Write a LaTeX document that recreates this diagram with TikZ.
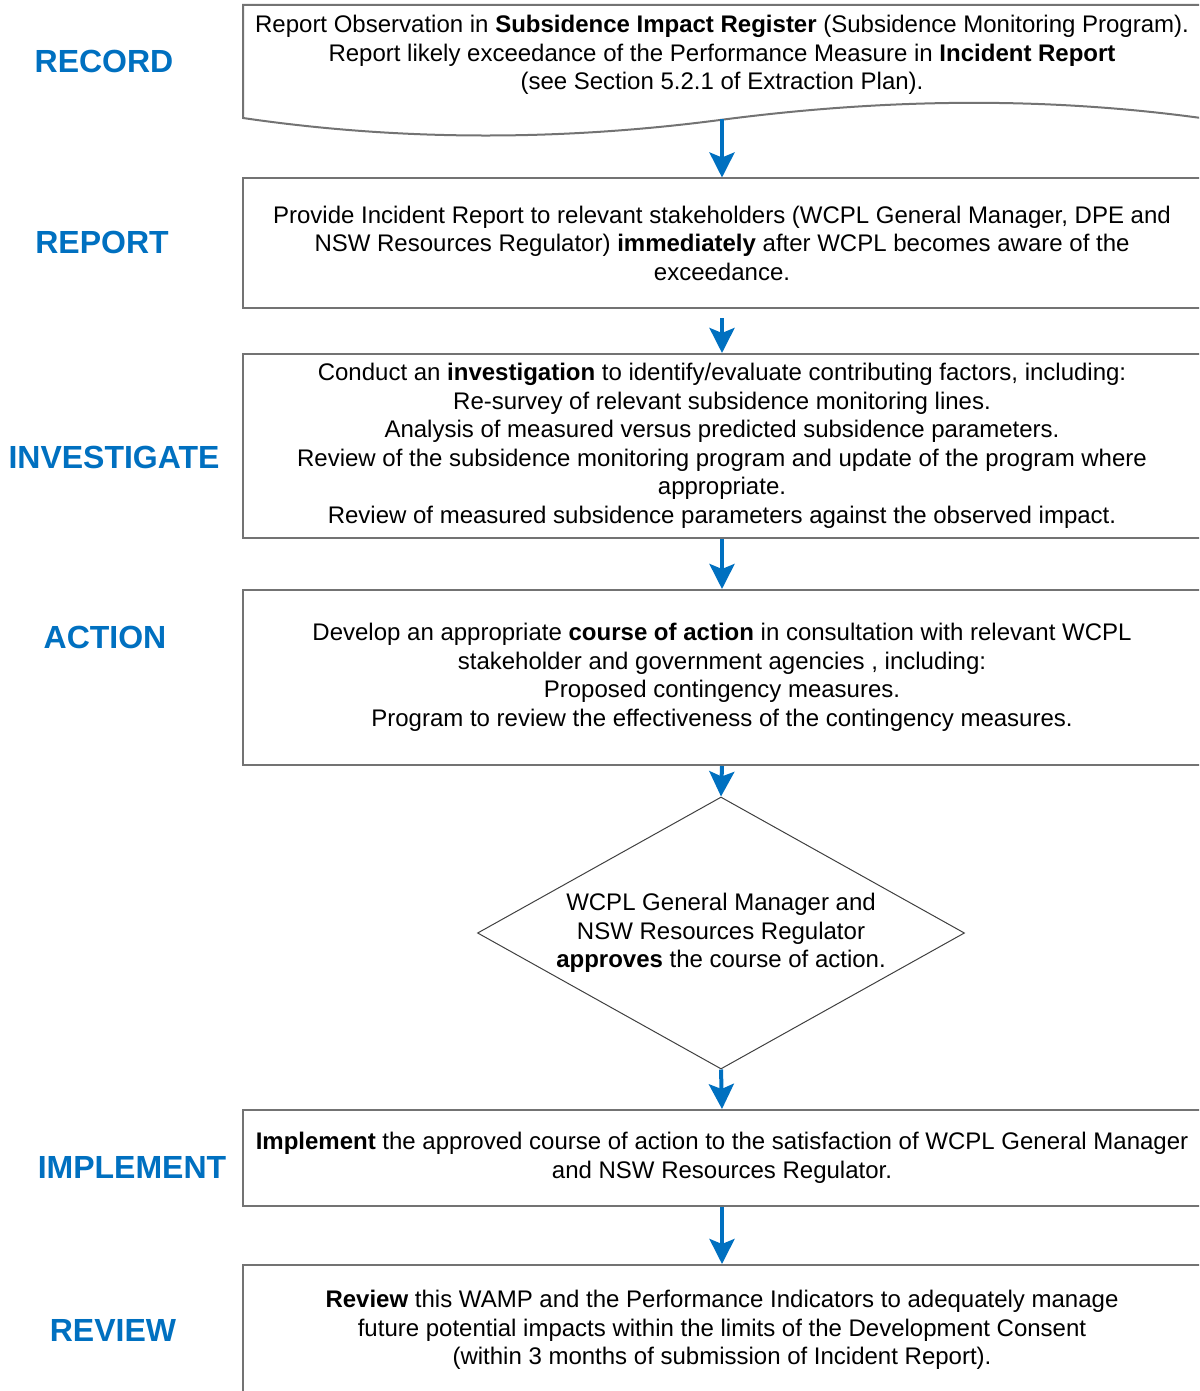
\documentclass[tikz,border=0pt]{standalone}
\usepackage{fontspec}
\setmainfont{Liberation Sans}
\usetikzlibrary{arrows.meta,shapes.geometric}
\definecolor{stepblue}{RGB}{0,112,192}
\tikzset{
	box/.style={draw=black!55,line width=1pt,minimum width=479pt,inner sep=0pt,align=center,
		font=\fontsize{12}{14.25}\selectfont},
	boxline/.style={draw=black!55,line width=1pt},
	steplabel/.style={text=stepblue,font=\fontsize{16}{19}\selectfont\bfseries},
	flow/.style={draw=stepblue,line width=2pt,-{Stealth[width=12.5pt,length=12.5pt,inset=2.5pt]}}
}
\begin{document}
\begin{tikzpicture} [x=0.5pt,y=-0.5pt]
		\useasboundingbox (0,0) rectangle (1199,1391);
		\clip (0,0) rectangle (1199,1391);
		% record (document shape)
		\draw [boxline] (1201,118) -- (1201,5) -- (243,5) -- (243,118)
			.. controls (400,141) and (560,141) .. (720,120)
			.. controls (880,99) and (1040,96) .. (1201,118);
		\node [box,draw=none] (rec) at (722,55) {Report Observation in \textbf{Subsidence Impact Register} (Subsidence Monitoring Program).\\
			Report likely exceedance of the Performance Measure in \textbf{Incident Report}\\
			(see Section 5.2.1 of Extraction Plan).};
		\coordinate (recout) at (722,119);
		% report
		\node [box,minimum height=64.5pt] (rep) at (722,243) {Provide Incident Report to relevant stakeholders (WCPL General Manager, DPE and\\
			NSW Resources Regulator) \textbf{immediately} after WCPL becomes aware of the\\
			exceedance.};
		\coordinate (repout) at (722,318);
		% investigate
		\node [box,minimum height=92pt] (inv) at (722,446) {Conduct an \textbf{investigation} to identify/evaluate contributing factors, including:\\
			Re-survey of relevant subsidence monitoring lines.\\
			Analysis of measured versus predicted subsidence parameters.\\
			Review of the subsidence monitoring program and update of the program where\\
			appropriate.\\
			Review of measured subsidence parameters against the observed impact.};
		% action
		\node [box,minimum height=87.5pt] (act) at (722,677.5) {Develop an appropriate \textbf{course of action} in consultation with relevant WCPL\\
			stakeholder and government agencies , including:\\
			Proposed contingency measures.\\
			Program to review the effectiveness of the contingency measures.};
		% approval
		\node [diamond,draw=black!75,line width=0.5pt,aspect=1.79,inner sep=0pt,minimum width=243.5pt,minimum height=136pt,
			align=center,font=\fontsize{12}{14.25}\selectfont] (appr) at (721,933) {WCPL General Manager and\\
			NSW Resources Regulator\\
			\textbf{approves} the course of action.};
		% implement
		\node [box,minimum height=48pt] (imp) at (722,1158) {\textbf{Implement} the approved course of action to the satisfaction of WCPL General Manager\\
			and NSW Resources Regulator.};
		% review
		\node [box,minimum height=65pt] (rev) at (722,1330) {\textbf{Review} this WAMP and the Performance Indicators to adequately manage\\
			future potential impacts within the limits of the Development Consent\\
			(within 3 months of submission of Incident Report).};
		% arrows
		\draw [flow] (recout) -- (rep.north);
		\draw [flow] (repout) -- (inv.north);
		\draw [flow] (inv.south) -- (act.north);
		\draw [flow] (act.south) -- (appr.north);
		\draw [flow] (appr.south) -- (imp.north);
		\draw [flow] (imp.south) -- (rev.north);
		% step labels
		\node [steplabel] (lrecord) at (104,61) {RECORD};
		\node [steplabel] (lreport) at (102,242) {REPORT};
		\node [steplabel] (linvest) at (114,457) {INVESTIGATE};
		\node [steplabel] (laction) at (105,637) {ACTION};
		\node [steplabel] (limplem) at (132,1167) {IMPLEMENT};
		\node [steplabel] (lreview) at (113,1330) {REVIEW};
	\end{tikzpicture}
\end{document}
